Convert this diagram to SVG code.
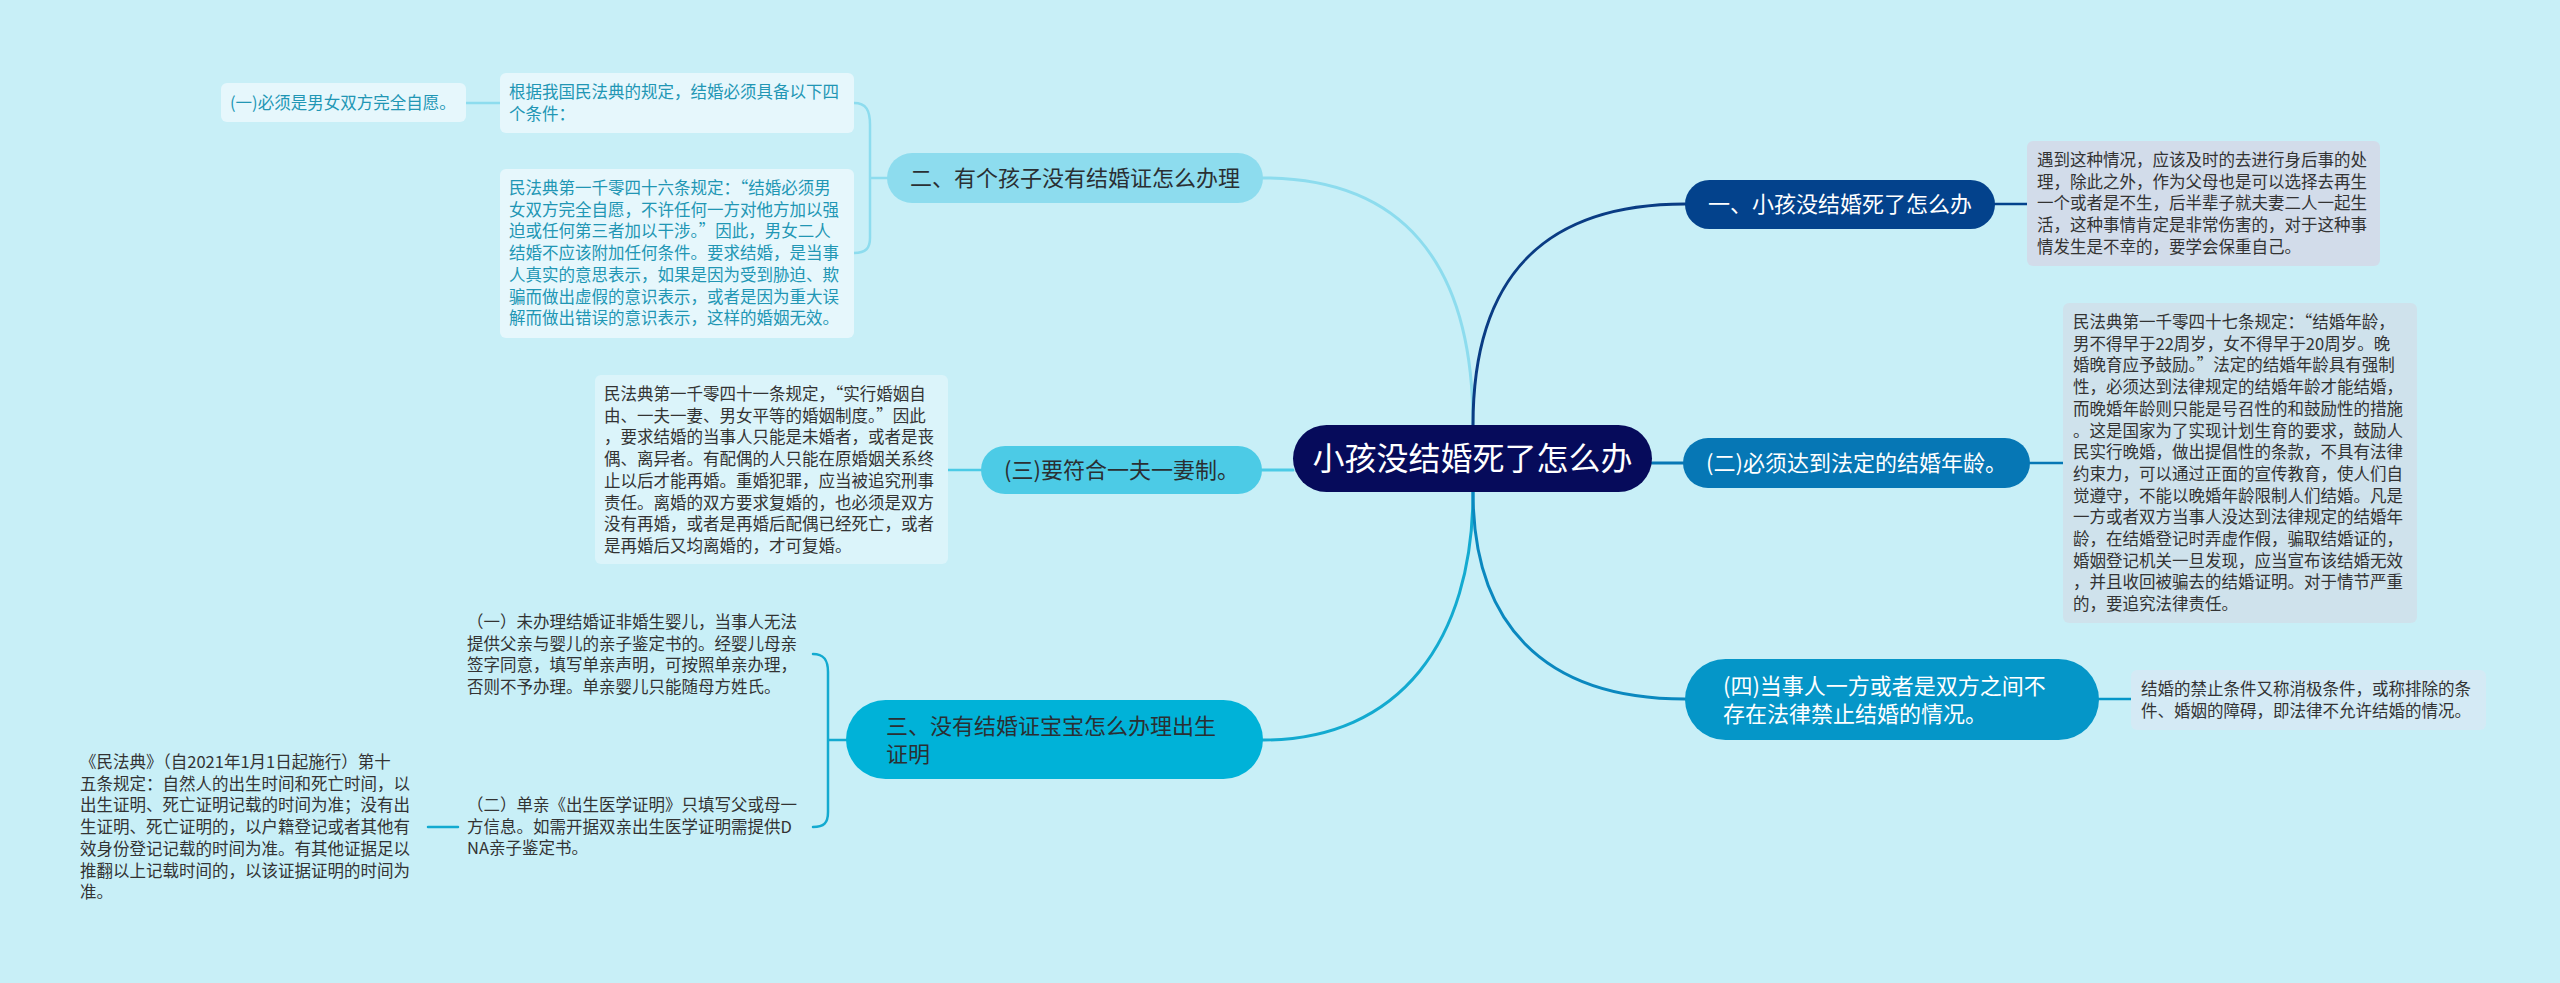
<svg xmlns="http://www.w3.org/2000/svg" width="2560" height="983" viewBox="0 0 2560 983" xml:lang="zh-CN">
<style>
text { font-family: "Noto Sans CJK SC", "Noto Sans", sans-serif; }
.n22 { font-size: 22px; }
.t { font-size: 16.5px; fill: #333333; }
.tl { font-size: 16.5px; fill: #2196b4; }
.w { fill: #ffffff; }
.d { fill: #2a2f33; }
.q { font-feature-settings: "fwid" 1; }
.c { fill: none; stroke-width: 3; stroke-linecap: round; }
.s { fill: none; stroke-width: 2.5; stroke-linecap: round; }
</style>
<rect x="0" y="0" width="2560" height="983" fill="#c8eff7"/>

<g id="connectors">
  <path class="c" d="M1473,425 C1473,260 1400,178 1263,178" stroke="#8ddcee"/>
  <path class="c" d="M1473,425 C1473,270 1550,204 1685,204" stroke="#0a3c84"/>
  <path class="c" d="M1473,492 C1473,640 1400,740 1263,740" stroke="#13aad0"/>
  <path class="c" d="M1473,492 C1473,620 1540,699 1685,699" stroke="#0a88bf"/>
  <path class="c" d="M1262,470 H1293" stroke="#4ccbe6"/>
  <path class="c" d="M1652,463 H1683" stroke="#0677b5"/>
  <path class="s" d="M1995,204 H2027" stroke="#03428c"/>
  <path class="s" d="M2030,463 H2063" stroke="#0677b5"/>
  <path class="s" d="M2099,699 H2131" stroke="#0596c8"/>
  <path class="s" d="M981,470 H948" stroke="#4ccbe6"/>
  <path class="s" d="M887,178 H870 M854,103 C866,103 870,110 870,125 V238 C870,248 866,253 854,253" stroke="#8ddcee"/>
  <path class="s" d="M500,103 H466" stroke="#8ddcee"/>
  <path class="s" d="M846,740 H828 M813,654 C824,654 828,660 828,672 V812 C828,823 824,827 813,827" stroke="#13aad0"/>
  <path class="s" d="M458,827 H428" stroke="#13aad0"/>
</g>

<g id="center">
  <rect x="1293" y="425" width="359" height="67" rx="33.5" fill="#060b5b"/>
  <text x="1472.5" y="470" font-size="32" text-anchor="middle" class="w">小孩没结婚死了怎么办</text>
</g>

<g id="r1">
  <rect x="1685" y="180" width="310" height="49" rx="24.5" fill="#03428c"/>
  <text x="1840" y="212" text-anchor="middle" class="n22 w">一、小孩没结婚死了怎么办</text>
</g>
<g id="r1-text">
  <rect x="2027" y="141" width="353" height="125" rx="6" fill="#d2dcea"/>
  <text class="t">
    <tspan x="2037" y="166">遇到这种情况，应该及时的去进行身后事的处</tspan>
    <tspan x="2037" y="187.7">理，除此之外，作为父母也是可以选择去再生</tspan>
    <tspan x="2037" y="209.4">一个或者是不生，后半辈子就夫妻二人一起生</tspan>
    <tspan x="2037" y="231.1">活，这种事情肯定是非常伤害的，对于这种事</tspan>
    <tspan x="2037" y="252.8">情发生是不幸的，要学会保重自己。</tspan>
  </text>
</g>

<g id="r2">
  <rect x="1683" y="438" width="347" height="50" rx="25" fill="#0677b5"/>
  <text x="1856.5" y="471" text-anchor="middle" class="n22 w">(二)必须达到法定的结婚年龄。</text>
</g>
<g id="r2-text">
  <rect x="2063" y="303" width="354" height="320" rx="6" fill="#cfe2ec"/>
  <text class="t">
    <tspan x="2073" y="328">民法典第一千零四十七条规定：<tspan class="q">“</tspan>结婚年龄，</tspan>
    <tspan x="2073" y="349.7">男不得早于22周岁，女不得早于20周岁。晚</tspan>
    <tspan x="2073" y="371.4">婚晚育应予鼓励。<tspan class="q">”</tspan>法定的结婚年龄具有强制</tspan>
    <tspan x="2073" y="393.1">性，必须达到法律规定的结婚年龄才能结婚，</tspan>
    <tspan x="2073" y="414.8">而晚婚年龄则只能是号召性的和鼓励性的措施</tspan>
    <tspan x="2073" y="436.5">。这是国家为了实现计划生育的要求，鼓励人</tspan>
    <tspan x="2073" y="458.2">民实行晚婚，做出提倡性的条款，不具有法律</tspan>
    <tspan x="2073" y="479.9">约束力，可以通过正面的宣传教育，使人们自</tspan>
    <tspan x="2073" y="501.6">觉遵守，不能以晚婚年龄限制人们结婚。凡是</tspan>
    <tspan x="2073" y="523.3">一方或者双方当事人没达到法律规定的结婚年</tspan>
    <tspan x="2073" y="545">龄，在结婚登记时弄虚作假，骗取结婚证的，</tspan>
    <tspan x="2073" y="566.7">婚姻登记机关一旦发现，应当宣布该结婚无效</tspan>
    <tspan x="2073" y="588.4">，并且收回被骗去的结婚证明。对于情节严重</tspan>
    <tspan x="2073" y="610.1">的，要追究法律责任。</tspan>
  </text>
</g>

<g id="r3">
  <rect x="1685" y="659" width="414" height="81" rx="40.5" fill="#0596c8"/>
  <text class="n22 w">
    <tspan x="1723" y="693.5">(四)当事人一方或者是双方之间不</tspan>
    <tspan x="1723" y="721.5">存在法律禁止结婚的情况。</tspan>
  </text>
</g>
<g id="r3-text">
  <rect x="2131" y="670" width="355" height="60" rx="6" fill="#d4eaf5"/>
  <text class="t">
    <tspan x="2141" y="695">结婚的禁止条件又称消极条件，或称排除的条</tspan>
    <tspan x="2141" y="716.7">件、婚姻的障碍，即法律不允许结婚的情况。</tspan>
  </text>
</g>

<g id="l1">
  <rect x="887" y="153" width="376" height="50" rx="25" fill="#8ddcee"/>
  <text x="1075" y="186" text-anchor="middle" class="n22 d">二、有个孩子没有结婚证怎么办理</text>
</g>
<g id="l1-a">
  <rect x="500" y="73" width="354" height="60" rx="6" fill="#e6f7fc"/>
  <text class="tl">
    <tspan x="509" y="98">根据我国民法典的规定，结婚必须具备以下四</tspan>
    <tspan x="509" y="119.7">个条件：</tspan>
  </text>
</g>
<g id="l1-a1">
  <rect x="221" y="83" width="245" height="39" rx="6" fill="#e6f7fc"/>
  <text x="230" y="108.5" class="tl">(一)必须是男女双方完全自愿。</text>
</g>
<g id="l1-b">
  <rect x="500" y="169" width="354" height="169" rx="6" fill="#e6f7fc"/>
  <text class="tl">
    <tspan x="509" y="194">民法典第一千零四十六条规定：<tspan class="q">“</tspan>结婚必须男</tspan>
    <tspan x="509" y="215.7">女双方完全自愿，不许任何一方对他方加以强</tspan>
    <tspan x="509" y="237.4">迫或任何第三者加以干涉。<tspan class="q">”</tspan>因此，男女二人</tspan>
    <tspan x="509" y="259.1">结婚不应该附加任何条件。要求结婚，是当事</tspan>
    <tspan x="509" y="280.8">人真实的意思表示，如果是因为受到胁迫、欺</tspan>
    <tspan x="509" y="302.5">骗而做出虚假的意识表示，或者是因为重大误</tspan>
    <tspan x="509" y="324.2">解而做出错误的意识表示，这样的婚姻无效。</tspan>
  </text>
</g>

<g id="l2">
  <rect x="981" y="446" width="281" height="48" rx="24" fill="#4ccbe6"/>
  <text x="1121.5" y="478" text-anchor="middle" class="n22 d">(三)要符合一夫一妻制。</text>
</g>
<g id="l2-text">
  <rect x="595" y="375" width="353" height="189" rx="6" fill="#dbf4fa"/>
  <text class="t">
    <tspan x="604" y="400">民法典第一千零四十一条规定，<tspan class="q">“</tspan>实行婚姻自</tspan>
    <tspan x="604" y="421.7">由、一夫一妻、男女平等的婚姻制度。<tspan class="q">”</tspan>因此</tspan>
    <tspan x="604" y="443.4">，要求结婚的当事人只能是未婚者，或者是丧</tspan>
    <tspan x="604" y="465.1">偶、离异者。有配偶的人只能在原婚姻关系终</tspan>
    <tspan x="604" y="486.8">止以后才能再婚。重婚犯罪，应当被追究刑事</tspan>
    <tspan x="604" y="508.5">责任。离婚的双方要求复婚的，也必须是双方</tspan>
    <tspan x="604" y="530.2">没有再婚，或者是再婚后配偶已经死亡，或者</tspan>
    <tspan x="604" y="551.9">是再婚后又均离婚的，才可复婚。</tspan>
  </text>
</g>

<g id="l3">
  <rect x="846" y="700" width="417" height="79" rx="39.5" fill="#00b2d8"/>
  <text class="n22 d">
    <tspan x="886" y="733.5">三、没有结婚证宝宝怎么办理出生</tspan>
    <tspan x="886" y="761.5">证明</tspan>
  </text>
</g>
<g id="l3-a">
  <text class="t">
    <tspan x="467" y="628">（一）未办理结婚证非婚生婴儿，当事人无法</tspan>
    <tspan x="467" y="649.7">提供父亲与婴儿的亲子鉴定书的。经婴儿母亲</tspan>
    <tspan x="467" y="671.4">签字同意，填写单亲声明，可按照单亲办理，</tspan>
    <tspan x="467" y="693.1">否则不予办理。单亲婴儿只能随母方姓氏。</tspan>
  </text>
</g>
<g id="l3-b">
  <text class="t">
    <tspan x="467" y="811">（二）单亲《出生医学证明》只填写父或母一</tspan>
    <tspan x="467" y="832.7">方信息。如需开据双亲出生医学证明需提供D</tspan>
    <tspan x="467" y="854.4">NA亲子鉴定书。</tspan>
  </text>
</g>
<g id="l3-b1">
  <text class="t">
    <tspan x="80" y="768">《民法典》（自2021年1月1日起施行）第十</tspan>
    <tspan x="80" y="789.7">五条规定：自然人的出生时间和死亡时间，以</tspan>
    <tspan x="80" y="811.4">出生证明、死亡证明记载的时间为准；没有出</tspan>
    <tspan x="80" y="833.1">生证明、死亡证明的，以户籍登记或者其他有</tspan>
    <tspan x="80" y="854.8">效身份登记记载的时间为准。有其他证据足以</tspan>
    <tspan x="80" y="876.5">推翻以上记载时间的，以该证据证明的时间为</tspan>
    <tspan x="80" y="898.2">准。</tspan>
  </text>
</g>
</svg>
